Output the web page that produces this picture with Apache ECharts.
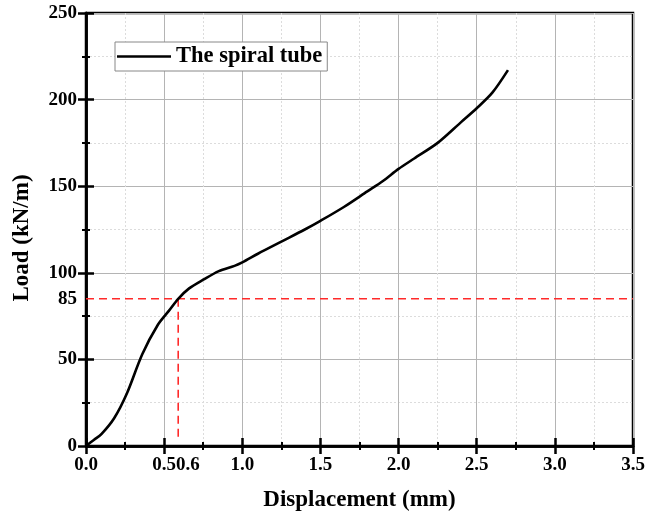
<!DOCTYPE html>
<html>
<head>
<meta charset="utf-8">
<script src="https://cdn.jsdelivr.net/npm/echarts@6/dist/echarts.min.js"></script>
<style>html,body{margin:0;padding:0;background:#fff}#c{width:659px;height:517px}</style>
</head>
<body>
<div id="c"></div>
<script>
// Data
var displacement = [0, 0.05, 0.10, 0.18, 0.26, 0.36, 0.46, 0.53, 0.59, 0.66, 0.75, 0.85, 0.95, 1.0, 1.1, 1.25, 1.4, 1.5, 1.65, 1.8, 1.9, 2.0, 2.1, 2.25, 2.4, 2.5, 2.6, 2.7];
var load = [0, 3.5, 7, 16, 30, 53, 70, 78, 85, 91, 96, 101, 104, 106, 111, 118, 125, 130, 138, 147, 153, 160, 166, 175, 187, 195, 204, 217];
var seriesName = 'The spiral tube';
var refX = 0.59;      // yield displacement marker
var refY = 85;        // yield load marker
var xLabelValues = [0, 0.5, 0.6, 1.0, 1.5, 2.0, 2.5, 3.0, 3.5];
var yLabelValues = [0, 50, 85, 100, 150, 200, 250];
var xTitle = 'Displacement (mm)';
var yTitle = 'Load (kN/m)';

var curve = displacement.map(function (x, i) { return [x, load[i]]; });
var font = 'Liberation Serif';
var gridLine = { show: true, lineStyle: { color: '#b4b4b4', width: 1 } };
var minorGrid = { show: true, lineStyle: { color: '#dcdcdc', width: 1, type: [2, 2] } };

var chart = echarts.init(document.getElementById('c'));
chart.setOption({
  animation: false,
  backgroundColor: '#fff',
  grid: { left: 86, right: 26, top: 13, bottom: 65, show: true, borderColor: '#000', borderWidth: 2.5, backgroundColor: 'transparent' },
  legend: {
    data: [seriesName], left: 115, top: 42, padding: [3, 5, 3, 2], itemGap: 6,
    borderColor: '#888', borderWidth: 1, borderRadius: 0, backgroundColor: '#fff',
    itemWidth: 54, itemHeight: 24, icon: 'path://M0,11 L54,11 L54,13.5 L0,13.5 Z',
    itemStyle: { color: '#000' },
    textStyle: { fontFamily: font, fontWeight: 'bold', fontSize: 22.5, color: '#000' }
  },
  xAxis: [{
    type: 'value', min: 0, max: 3.5, interval: 0.5, position: 'bottom',
    name: xTitle, nameLocation: 'middle', nameGap: 43,
    nameTextStyle: { fontFamily: font, fontWeight: 'bold', fontSize: 23, color: '#000' },
    axisLine: { show: true, lineStyle: { color: '#000', width: 2.5 } },
    axisTick: { show: true, inside: true, length: 8, lineStyle: { color: '#000', width: 2.5 } },
    minorTick: { show: true, splitNumber: 2, length: 4, lineStyle: { color: '#000', width: 2 } },
    splitLine: gridLine, minorSplitLine: minorGrid,
    axisLabel: {
      customValues: xLabelValues, margin: 10, color: '#000',
      fontFamily: font, fontWeight: 'bold', fontSize: 19,
      formatter: function (v) {
        if (Math.abs(v - 0.6) < 1e-6) return '{s|0.6}';
        return v.toFixed(1);
      },
      rich: { s: { fontFamily: font, fontWeight: 'bold', fontSize: 19, color: '#000', padding: [0, 0, 0, 16] } }
    }
  }, {
    type: 'value', min: 0, max: 3.5, interval: 0.5, position: 'top',
    axisLine: { show: true, lineStyle: { color: '#000', width: 2.5 } },
    axisTick: { show: true, inside: true, length: 8, lineStyle: { color: '#000', width: 2.5 } },
    minorTick: { show: true, splitNumber: 2, length: 4, lineStyle: { color: '#000', width: 2 } },
    splitLine: { show: false }, axisLabel: { show: false }
  }],
  yAxis: [{
    type: 'value', min: 0, max: 250, interval: 50, position: 'left',
    name: yTitle, nameLocation: 'middle', nameGap: 52, nameRotate: 90,
    nameTextStyle: { fontFamily: font, fontWeight: 'bold', fontSize: 23, color: '#000', padding: [0, 17, 0, 0] },
    axisLine: { show: true, lineStyle: { color: '#000', width: 2.5 } },
    axisTick: { show: true, inside: true, length: 8, lineStyle: { color: '#000', width: 2.5 } },
    minorTick: { show: true, splitNumber: 2, length: 4, lineStyle: { color: '#000', width: 2 } },
    splitLine: gridLine, minorSplitLine: minorGrid,
    axisLabel: { customValues: yLabelValues, margin: 9, color: '#000', fontFamily: font, fontWeight: 'bold', fontSize: 19 }
  }, {
    type: 'value', min: 0, max: 250, interval: 50, position: 'right',
    axisLine: { show: true, lineStyle: { color: '#000', width: 2.5 } },
    axisTick: { show: true, inside: true, length: 8, lineStyle: { color: '#000', width: 2.5 } },
    minorTick: { show: true, splitNumber: 2, length: 4, lineStyle: { color: '#000', width: 2 } },
    splitLine: { show: false }, axisLabel: { show: false }
  }],
  series: [{
    name: 'refH', type: 'line', symbol: 'none', silent: true, z: 3,
    data: [[0, refY], [3.5, refY]],
    lineStyle: { color: '#ff2a2a', width: 1.6, type: [8, 5] }
  }, {
    name: 'refV', type: 'line', symbol: 'none', silent: true, z: 3,
    data: [[refX, refY], [refX, 4]],
    lineStyle: { color: '#ff2a2a', width: 1.6, type: [8, 5] }
  }, {
    name: seriesName, type: 'line', symbol: 'none', smooth: 0.3, z: 4,
    data: curve,
    itemStyle: { color: '#000' },
    lineStyle: { color: '#000', width: 2.6 }
  }]
});
</script>
</body>
</html>
